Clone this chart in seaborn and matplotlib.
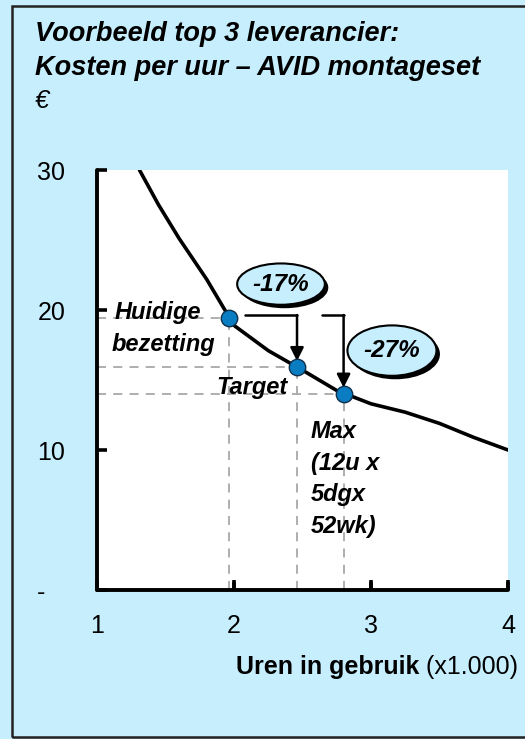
import matplotlib
matplotlib.use("Agg")
import matplotlib.pyplot as plt
import matplotlib.patheffects as pe
from matplotlib.patches import Ellipse, Rectangle
import seaborn as sns
import pandas as pd

# curve (cost per hour vs hours used, x1.000)
curve_x = [1.31, 1.45, 1.6, 1.8, 2.0, 2.25, 2.5, 2.75, 3.0, 3.25, 3.5, 3.75, 4.0]
curve_y = [30.0, 27.5, 25.1, 22.2, 18.9, 17.1, 15.7, 14.25, 13.3, 12.7, 11.9, 10.9, 10.0]

point_names = ['Huidige bezetting', 'Target', 'Max']
point_x = [1.96, 2.46, 2.80]
point_y = [19.4, 15.9, 14.0]

change_labels = ['-17%', '-27%']

y_ticks = [0, 10, 20, 30]
y_ticklabels = ['-', '10', '20', '30']
x_ticks = [1, 2, 3, 4]

bg = '#C6EEFD'
sns.set_theme(style='white')
plt.rcParams['font.family'] = ['Liberation Sans', 'DejaVu Sans']
plt.rcParams['text.color'] = 'black'
plt.rcParams['xtick.color'] = 'black'
plt.rcParams['ytick.color'] = 'black'
plt.rcParams['xtick.bottom'] = True
plt.rcParams['ytick.left'] = True

fig = plt.figure(figsize=(5.25, 7.39), dpi=100, facecolor=bg)
ax = fig.add_axes([97/525, 1-590/739, (508-97)/525, (590-170)/739])
ax.set_facecolor('white')
ax.set_axisbelow(False)

# frame round the whole chart
fig.patches.append(Rectangle((12/525, 2/739), 1.2, 1-8/739, transform=fig.transFigure,
                             facecolor='none', edgecolor='#222222', lw=1.8, zorder=0))

curve = pd.DataFrame({'x': curve_x, 'y': curve_y})
pts = pd.DataFrame({'x': point_x, 'y': point_y, 'name': point_names})

# dashed helper lines
for px, py in zip(point_x, point_y):
    ax.plot([1, px], [py, py], color='#A8A8A8', lw=1.3, ls=(0, (5, 4)), zorder=1)
    ax.plot([px, px], [0, py], color='#A8A8A8', lw=1.3, ls=(0, (5, 4)), zorder=1)

sns.lineplot(data=curve, x='x', y='y', color='black', lw=2.6, ax=ax, zorder=3,
             solid_capstyle='round')
sns.scatterplot(data=pts, x='x', y='y', s=140, color='#0A7CC1', edgecolor='#10304a',
                linewidth=1.0, ax=ax, zorder=5)

# small upward tick marks on the x axis
ax.vlines(x_ticks, 0, 0.55, color='black', lw=2.6, zorder=4, clip_on=False)

# arrows Huidige -> Target and -> Max
arr_y = 19.64
for x0, x1, y1 in [(2.08, point_x[1], point_y[1] + 0.45), (2.64, point_x[2], point_y[2] + 0.45)]:
    ax.plot([x0, x1], [arr_y, arr_y], color='black', lw=1.8, zorder=4)
    ax.annotate('', xy=(x1, y1), xytext=(x1, arr_y),
                arrowprops=dict(arrowstyle='-|>', color='black', lw=1.8,
                                mutation_scale=20, shrinkA=0, shrinkB=0), zorder=4)

# percentage bubbles
shadow = [pe.SimplePatchShadow(offset=(2.5, -2.5), shadow_rgbFace='black', alpha=1), pe.Normal()]
for (cx, cy, w, h), lab in zip([(2.343, 21.85, 0.64, 2.95), (3.153, 17.1, 0.65, 3.6)], change_labels):
    e = Ellipse((cx, cy), w, h, facecolor=bg, edgecolor='black', lw=1.5, zorder=6,
                path_effects=shadow)
    ax.add_patch(e)
    ax.text(cx, cy, lab, ha='center', va='center', fontsize=17.5, fontweight='bold',
            fontstyle='italic', zorder=7)

# point labels
lab_kw = dict(fontsize=17, fontweight='bold', fontstyle='italic', zorder=7)
ax.text(1.13, 19.8, 'Huidige', ha='left', va='center', **lab_kw)
ax.text(1.11, 17.5, 'bezetting', ha='left', va='center', **lab_kw)
ax.text(2.39, 14.45, 'Target', ha='right', va='center', **lab_kw)
for i, line in enumerate(['Max', '(12u x', '5dgx', '52wk)']):
    ax.text(2.56, 11.3 - i*2.25, line, ha='left', va='center', **lab_kw)

ax.set_xlim(1, 4)
ax.set_ylim(0, 30)
ax.set_xticks(x_ticks)
ax.set_xticklabels([str(t) for t in x_ticks])
ax.set_yticks(y_ticks)
ax.set_yticklabels(y_ticklabels)
ax.set_xlabel('')
ax.set_ylabel('')
ax.tick_params(axis='both', direction='in', length=7, width=2.6, color='black',
               labelsize=18, labelcolor='black', bottom=True, left=True)
ax.tick_params(axis='y', pad=43)
ax.tick_params(axis='x', pad=17)
for lbl in ax.get_yticklabels():
    lbl.set_ha('left')
for s in ['top', 'right']:
    ax.spines[s].set_visible(False)
for s in ['left', 'bottom']:
    ax.spines[s].set_linewidth(2.8)
    ax.spines[s].set_color('black')
    ax.spines[s].set_capstyle('round')

# title block
title_kw = dict(ha='left', va='baseline', fontsize=19.5, fontweight='bold', fontstyle='italic')
fig.text(35/525, 1-41/739, 'Voorbeeld top 3 leverancier:', **title_kw)
fig.text(35/525, 1-75/739, 'Kosten per uur \u2013 AVID montageset', **title_kw)
fig.text(35/525, 1-108/739, '\u20ac', ha='left', va='baseline', fontsize=18.5, fontstyle='italic')

# x axis label: bold part + regular part
unit = fig.text(518/525, 1-667/739, ' (x1.000)', ha='right', va='center', fontsize=18)
fig.canvas.draw()
bb = unit.get_window_extent(fig.canvas.get_renderer())
fig.text(bb.x0/fig.bbox.width, 1-667/739, 'Uren in gebruik', ha='right', va='center',
         fontsize=18, fontweight='bold')

fig.savefig('out.png', dpi=100, facecolor=bg)
